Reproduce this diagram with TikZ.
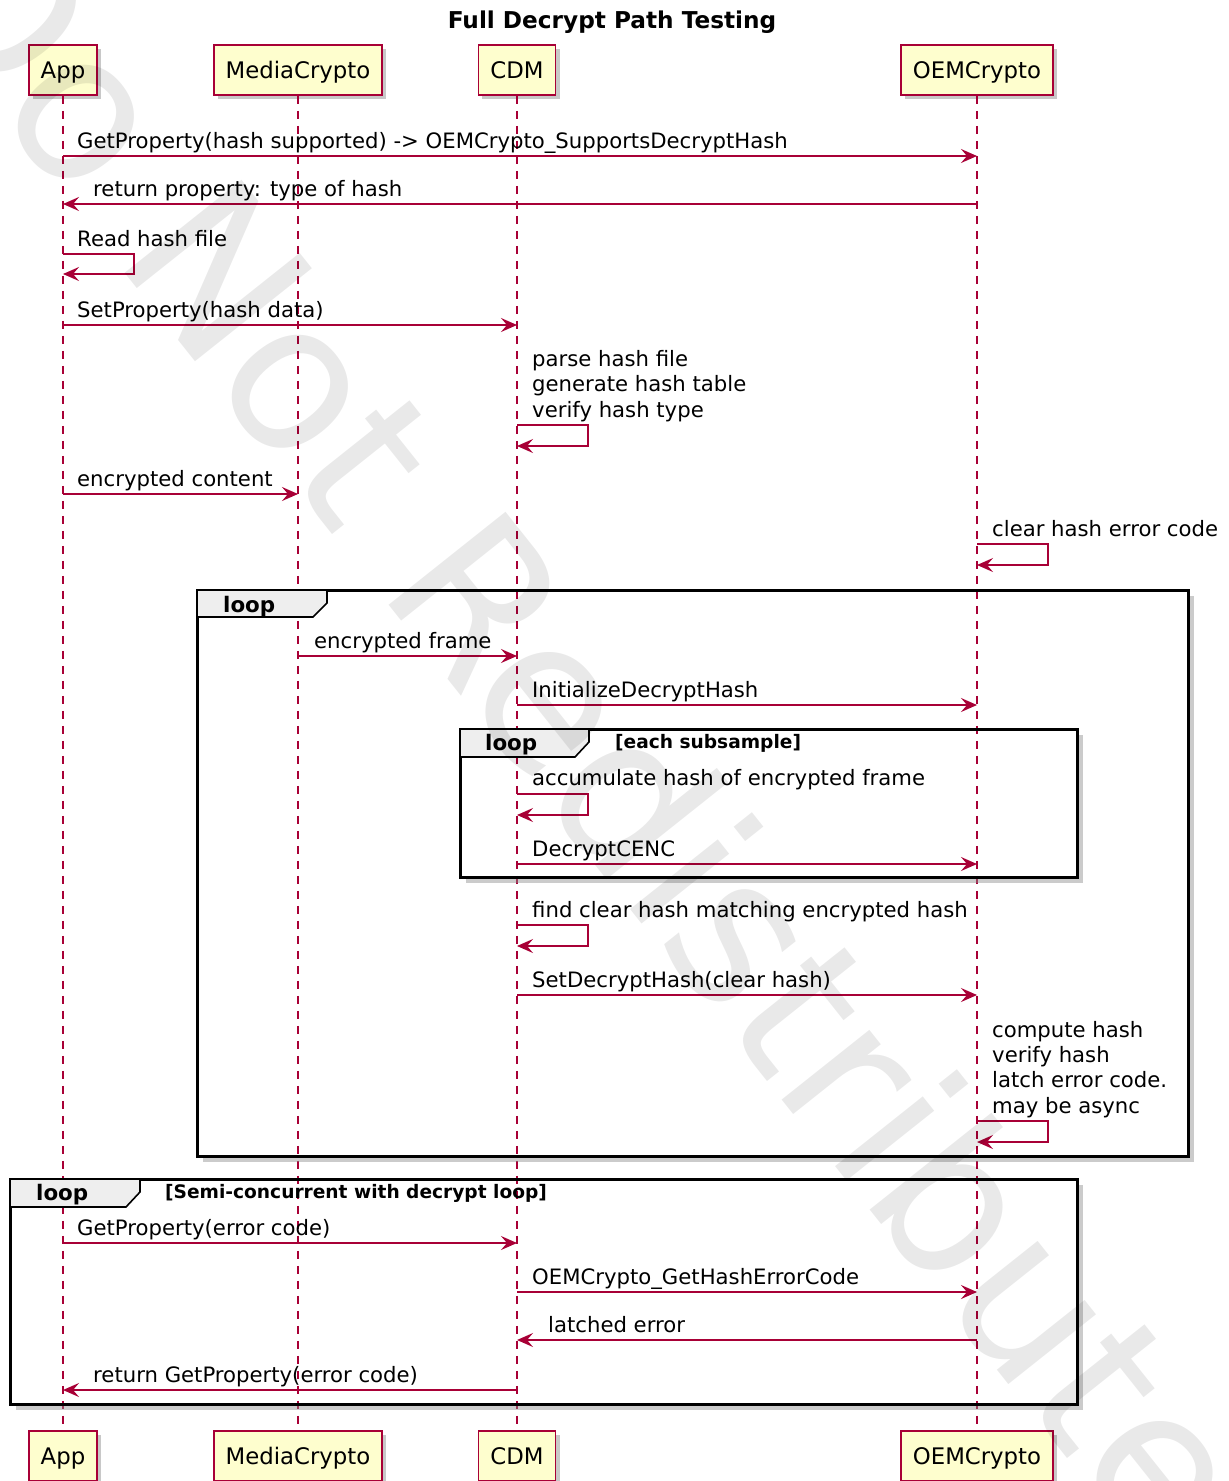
\documentclass[tikz,border=0pt]{standalone}
\usepackage{fontspec}
\setmainfont{DejaVu Sans}
\usetikzlibrary{arrows.meta,shadows}
\definecolor{pu}{HTML}{A80036}
\definecolor{pubox}{HTML}{FEFECE}
\definecolor{putab}{HTML}{EEEEEE}
\begin{document}
\begin{tikzpicture}[x=1pt,y=-1pt,
  part/.style={draw=pu, fill=pubox, line width=1.8pt, minimum height=50pt, inner xsep=12pt,
    font=\fontsize{22.8}{27}\selectfont, text height=16.6pt, text depth=0pt,
    drop shadow={shadow xshift=4pt, shadow yshift=-4pt, opacity=0.3, fill=black!70}},
  lifeline/.style={draw=pu, line width=1.4pt, dash pattern=on 8pt off 7pt},
  msgline/.style={draw=pu, line width=1.6pt, -{Stealth[length=16pt,width=14pt,inset=6pt]}},
  msg/.style={font=\fontsize{21.2}{25.3}\selectfont, anchor=base west, inner sep=0pt},
  frameline/.style={draw=black, line width=3pt},
  frameshadow/.style={draw=black!45, opacity=0.45, line width=4pt},
  tabshape/.style={draw=black, line width=1.6pt, fill=putab},
  tablabel/.style={font=\bfseries\fontsize{21.4}{25}\selectfont, anchor=base west, inner sep=0pt},
  condlabel/.style={font=\bfseries\fontsize{18.6}{22}\selectfont, anchor=base west, inner sep=0pt},
  titlestyle/.style={font=\bfseries\fontsize{23.2}{27}\selectfont, anchor=base, inner sep=0pt},
  watermark/.style={font=\fontsize{205}{205}\selectfont, text=black, opacity=0.085, inner sep=0pt}
]
\useasboundingbox (0,0) rectangle (1229,1481);
\fill[white] (0,0) rectangle (1229,1481);

% title
\node[titlestyle] (title) at (612,28) {Full Decrypt Path Testing};

% participants
\node[part] (appT) at (63,70) {App};
\node[part] (mcT) at (298,70) {MediaCrypto};
\node[part] (cdmT) at (517,70) {CDM};
\node[part] (oemT) at (977,70) {OEMCrypto};
\node[part] (appB) at (63,1456) {App};
\node[part] (mcB) at (298,1456) {MediaCrypto};
\node[part] (cdmB) at (517,1456) {CDM};
\node[part] (oemB) at (977,1456) {OEMCrypto};

% lifelines
\draw[lifeline] (appT.south) -- (appB.north);
\draw[lifeline] (mcT.south) -- (mcB.north);
\draw[lifeline] (cdmT.south) -- (cdmB.north);
\draw[lifeline] (oemT.south) -- (oemB.north);

% frames: outer loop
\draw[frameshadow] (203,1160) -- (1192,1160) -- (1192,596);
\draw[frameline] (197,590) rectangle (1188,1156);
\draw[tabshape] (197,590) -- (327,590) -- (327,603) -- (313,617) -- (197,617) -- cycle;
\node[tablabel] (loop1) at (223,612) {loop};

% inner loop
\draw[frameshadow] (466,881) -- (1081,881) -- (1081,735);
\draw[frameline] (460,729) rectangle (1077,877);
\draw[tabshape] (460,729) -- (589,729) -- (589,742) -- (575,757) -- (460,757) -- cycle;
\node[tablabel] (loop2) at (485,750) {loop};
\node[condlabel] (cond2) at (615,748) {[each subsample]};

% semi-concurrent loop
\draw[frameshadow] (16,1408) -- (1081,1408) -- (1081,1185);
\draw[frameline] (10,1179) rectangle (1077,1404);
\draw[tabshape] (10,1179) -- (140,1179) -- (140,1192) -- (126,1207) -- (10,1207) -- cycle;
\node[tablabel] (loop3) at (36,1200) {loop};
\node[condlabel] (cond3) at (165,1198) {[Semi-concurrent with decrypt loop]};

% messages
\node[msg] (m1) at (77,148) {GetProperty(hash supported) -> OEMCrypto\_SupportsDecryptHash};
\draw[msgline] (appT.south |- 0,156) -- (oemT.south |- 0,156);

\node[msg] (m2) at (93,196) {return property: type of hash};
\draw[msgline] (oemT.south |- 0,204) -- (appT.south |- 0,204);

\node[msg] (m3) at (77,246) {Read hash file};
\draw[msgline] (appT.south |- 0,254) -- ++(71,0) -- ++(0,20) -- (appT.south |- 0,274);

\node[msg] (m4) at (77,317) {SetProperty(hash data)};
\draw[msgline] (appT.south |- 0,325) -- (cdmT.south |- 0,325);

\node[msg] (m5a) at (532,366) {parse hash file};
\node[msg] (m5b) at (532,391.5) {generate hash table};
\node[msg] (m5c) at (532,417) {verify hash type};
\draw[msgline] (cdmT.south |- 0,425) -- ++(71,0) -- ++(0,21) -- (cdmT.south |- 0,446);

\node[msg] (m6) at (77,486) {encrypted content};
\draw[msgline] (appT.south |- 0,494) -- (mcT.south |- 0,494);

\node[msg] (m7) at (992,536) {clear hash error code};
\draw[msgline] (oemT.south |- 0,544) -- ++(71,0) -- ++(0,21) -- (oemT.south |- 0,565);

\node[msg] (m8) at (314,648) {encrypted frame};
\draw[msgline] (mcT.south |- 0,656) -- (cdmT.south |- 0,656);

\node[msg] (m9) at (532,697) {InitializeDecryptHash};
\draw[msgline] (cdmT.south |- 0,705) -- (oemT.south |- 0,705);

\node[msg] (m10) at (532,785) {accumulate hash of encrypted frame};
\draw[msgline] (cdmT.south |- 0,794) -- ++(71,0) -- ++(0,21) -- (cdmT.south |- 0,815);

\node[msg] (m11) at (532,856) {DecryptCENC};
\draw[msgline] (cdmT.south |- 0,864) -- (oemT.south |- 0,864);

\node[msg] (m12) at (532,917) {find clear hash matching encrypted hash};
\draw[msgline] (cdmT.south |- 0,925) -- ++(71,0) -- ++(0,21) -- (cdmT.south |- 0,946);

\node[msg] (m13) at (532,987) {SetDecryptHash(clear hash)};
\draw[msgline] (cdmT.south |- 0,995) -- (oemT.south |- 0,995);

\node[msg] (m14a) at (992,1037) {compute hash};
\node[msg] (m14b) at (992,1062) {verify hash};
\node[msg] (m14c) at (992,1087.5) {latch error code.};
\node[msg] (m14d) at (992,1113) {may be async};
\draw[msgline] (oemT.south |- 0,1121) -- ++(71,0) -- ++(0,21) -- (oemT.south |- 0,1142);

\node[msg] (m15) at (77,1235) {GetProperty(error code)};
\draw[msgline] (appT.south |- 0,1243) -- (cdmT.south |- 0,1243);

\node[msg] (m16) at (532,1284) {OEMCrypto\_GetHashErrorCode};
\draw[msgline] (cdmT.south |- 0,1292) -- (oemT.south |- 0,1292);

\node[msg] (m17) at (548,1332) {latched error};
\draw[msgline] (oemT.south |- 0,1340) -- (cdmT.south |- 0,1340);

\node[msg] (m18) at (93,1382) {return GetProperty(error code)};
\draw[msgline] (cdmT.south |- 0,1390) -- (appT.south |- 0,1390);

% watermark
\node[watermark, rotate=-51.5] (wm) at (582,725) {Do Not Redistribute};
\end{tikzpicture}
\end{document}
